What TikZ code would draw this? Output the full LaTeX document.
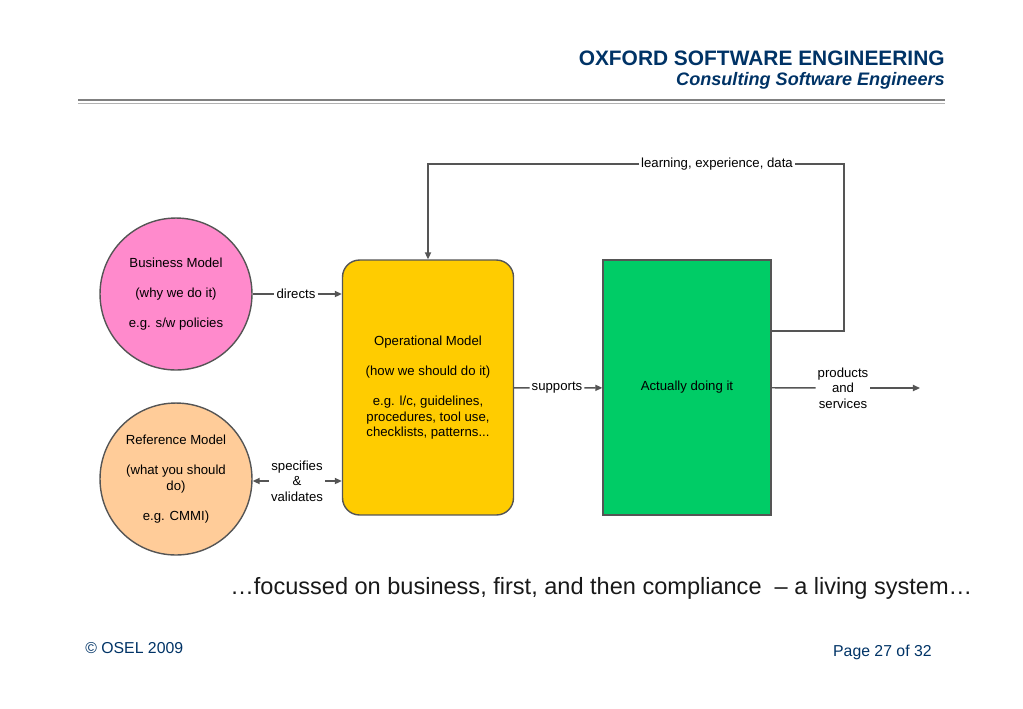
\documentclass[tikz,border=0pt]{standalone}
\usepackage{fontspec}
\setmainfont{Liberation Sans}
\usepackage{tikz}
\usetikzlibrary{arrows.meta}

\definecolor{oselblue}{RGB}{0,51,102}
\definecolor{linegray}{RGB}{85,85,85}
\definecolor{bizpink}{RGB}{255,138,204}
\definecolor{refpeach}{RGB}{255,204,153}
\definecolor{opgold}{RGB}{255,204,0}
\definecolor{doinggreen}{RGB}{0,204,102}

\begin{document}
\begin{tikzpicture}[x=0.02cm,y=-0.02cm,
	modelcircle/.style={circle,draw=linegray,line width=0.8pt,minimum size=3.04cm,inner sep=0pt,align=center,font=\fontsize{7.5}{8.7}\selectfont},
	modelbox/.style={rectangle,draw=linegray,line width=0.8pt,minimum width=3.42cm,minimum height=5.1cm,align=center,font=\fontsize{7.5}{8.7}\selectfont},
	flowlabel/.style={inner sep=1pt,align=center,font=\fontsize{7.5}{8.7}\selectfont},
	flow/.style={draw=linegray,line width=0.8pt},
	flowarrow/.style={flow,-{Triangle[length=4pt,width=3.5pt]}}]
	\useasboundingbox (0,0) rectangle (1023,708);

	% header
	\node [anchor=east,inner sep=0pt,text=oselblue,font=\fontsize{11.9}{14}\selectfont\bfseries](Title) at (945,58) {OXFORD SOFTWARE ENGINEERING};
	\node [anchor=east,inner sep=0pt,text=oselblue,font=\fontsize{10.3}{12}\selectfont\bfseries\itshape](Subtitle) at (945,80.5) {Consulting Software Engineers};
	\draw [gray,line width=1.2pt] (78,100) -- (945,100);
	\draw [gray!60,line width=0.5pt] (78,103) -- (945,103);

	% models
	\node [modelcircle,fill=bizpink](Business) at (176,294) {Business Model\\[8.5pt](why we do it)\\[8.5pt]e.g. s/w policies};
	\node [modelcircle,fill=refpeach](Reference) at (176,479) {Reference Model\\[8.5pt](what you should\\do)\\[8.5pt]e.g. CMMI)};
	\node [modelbox,fill=opgold,rounded corners=0.34cm](Operational) at (428,387.5) {Operational Model\\[8.5pt](how we should do it)\\[8.5pt]e.g. l/c, guidelines,\\procedures, tool use,\\checklists, patterns...};
	\node [modelbox,fill=doinggreen,minimum width=3.36cm](Doing) at (687,387.5) {Actually doing it};

	% labels
	\node [flowlabel](directs) at (296,294) {directs};
	\node [flowlabel](specifies) at (297,481) {specifies\\\&\\validates};
	\node [flowlabel](supports) at (557,388) {supports};
	\node [flowlabel](products) at (843,388) {products\\and\\services};
	\node [flowlabel](learning) at (717,164) {learning, experience, data};
	\coordinate (fbcorner) at (844,331);
	\coordinate (out) at (920,388);

	% connectors
	\draw [flow] (Business) -- (directs);
	\draw [flowarrow] (directs) -- (directs -| Operational.west);
	\draw [flowarrow] (specifies.west) -- (specifies.west -| Reference.east);
	\draw [flowarrow] (specifies) -- (specifies -| Operational.west);
	\draw [flow] (Operational) -- (supports);
	\draw [flowarrow] (supports) -- (Doing);
	\draw [flow] (Doing) -- (products);
	\draw [flowarrow] (products) -- (out);
	\draw [flow] (Doing.east |- fbcorner) -- (fbcorner) |- (learning);
	\draw [flowarrow] (learning) -| (Operational.north);

	% footer
	\node [anchor=west,inner sep=0pt,text=black!90,font=\fontsize{13.4}{16}\selectfont](Tagline) at (230,588) {…focussed on business, first, and then compliance \ – a living system…};
	\node [anchor=west,inner sep=0pt,text=oselblue,font=\fontsize{9}{11}\selectfont](Copyright) at (85,648) {© OSEL 2009};
	\node [anchor=east,inner sep=0pt,text=oselblue,font=\fontsize{9}{11}\selectfont](Page) at (932,652) {Page 27 of 32};
\end{tikzpicture}
\end{document}
